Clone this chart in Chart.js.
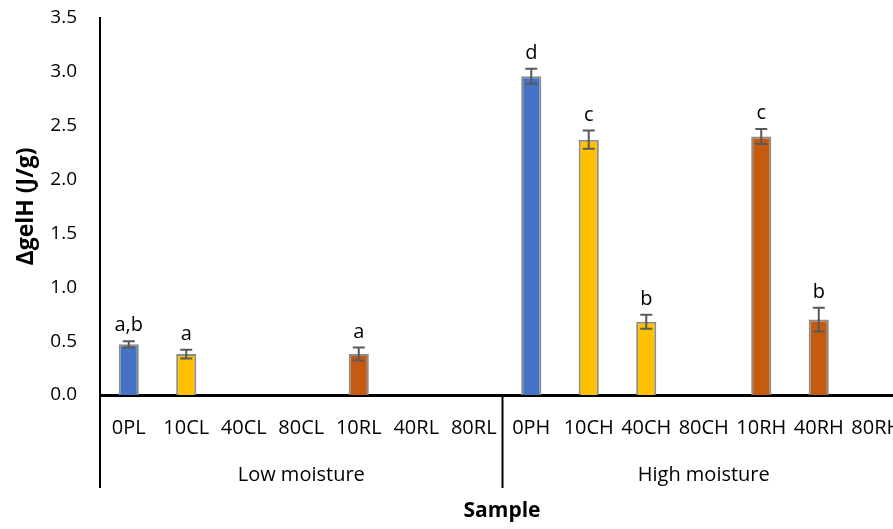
<!DOCTYPE html>
<html>
<head>
<meta charset="utf-8">
<script src="https://cdn.jsdelivr.net/npm/chart.js@4"></script>
<style>
  html, body { margin: 0; padding: 0; background: #fff; overflow: hidden; }
  #wrap { width: 905px; height: 529px; }
</style>
</head>
<body>
<div id="wrap"><canvas id="myChart" width="905" height="529"></canvas></div>
<script>
const categories = ['0PL', '10CL', '40CL', '80CL', '10RL', '40RL', '80RL',
                    '0PH', '10CH', '40CH', '80CH', '10RH', '40RH', '80RH'];
const groups = ['Low moisture', 'High moisture'];
const groupSize = 7;
const values = [0.47, 0.38, null, null, 0.38, null, null, 2.96, 2.37, 0.68, null, 2.40, 0.70, null];
const errors = [0.03, 0.04, null, null, 0.06, null, null, 0.07, 0.085, 0.065, null, 0.07, 0.11, null];
const letters = ['a,b', 'a', '', '', 'a', '', '', 'd', 'c', 'b', '', 'c', 'b', ''];
const yTicks = [0, 0.5, 1.0, 1.5, 2.0, 2.5, 3.0, 3.5];

const BLUE = '#4472C4', YELLOW = '#FFC000', ORANGE = '#C55A11';
const barColors = categories.map(c => c.startsWith('0P') ? BLUE : (c.includes('C') ? YELLOW : ORANGE));
const FONT = '"Open Sans", sans-serif';

const extras = {
  id: 'extras',
  afterDatasetsDraw(chart) {
    const ctx = chart.ctx;
    const x = chart.scales.x, y = chart.scales.y;
    const area = chart.chartArea;
    ctx.save();
    // error bars + significance letters
    values.forEach((v, i) => {
      if (v == null) return;
      const px = x.getPixelForValue(i);
      const top = y.getPixelForValue(v + errors[i]);
      const bot = y.getPixelForValue(v - errors[i]);
      ctx.strokeStyle = '#595959';
      ctx.lineWidth = 2;
      ctx.beginPath();
      ctx.moveTo(px, top); ctx.lineTo(px, bot);
      ctx.moveTo(px - 6, top); ctx.lineTo(px + 6, top);
      ctx.moveTo(px - 6, bot); ctx.lineTo(px + 6, bot);
      ctx.stroke();
      ctx.fillStyle = '#000';
      ctx.font = '20px ' + FONT;
      ctx.textAlign = 'center';
      ctx.textBaseline = 'alphabetic';
      ctx.fillText(letters[i], px, top - 10);
    });
    // category labels
    ctx.fillStyle = '#000';
    ctx.font = '20px ' + FONT;
    ctx.textAlign = 'center';
    ctx.textBaseline = 'alphabetic';
    categories.forEach((c, i) => ctx.fillText(c, x.getPixelForValue(i), 434));
    // group separators and labels
    ctx.strokeStyle = '#000';
    ctx.lineWidth = 2;
    const half = (x.getPixelForValue(1) - x.getPixelForValue(0)) / 2;
    ctx.beginPath();
    ctx.moveTo(area.left, area.bottom); ctx.lineTo(area.left, 488);
    for (let g = 1; g < groups.length; g++) {
      const sx = x.getPixelForValue(g * groupSize) - half;
      ctx.moveTo(sx, area.bottom); ctx.lineTo(sx, 488);
    }
    ctx.stroke();
    groups.forEach((g, gi) => {
      const a = x.getPixelForValue(gi * groupSize) - half;
      const b = x.getPixelForValue(gi * groupSize + groupSize - 1) + half;
      ctx.fillText(g, (a + b) / 2, 481);
    });
    // axis titles
    ctx.font = 'bold 21px ' + FONT;
    ctx.fillText('Sample', 502, 517);
    ctx.translate(26, (area.top + area.bottom) / 2);
    ctx.rotate(-Math.PI / 2);
    ctx.font = 'bold 23px ' + FONT;
    ctx.textBaseline = 'middle';
    ctx.fillText('ΔgelH (J/g)', 0, 0);
    ctx.restore();
  }
};

new Chart(document.getElementById('myChart').getContext('2d'), {
  type: 'bar',
  data: {
    labels: categories,
    datasets: [{
      data: values,
      backgroundColor: barColors,
      borderColor: '#8C8C8C',
      borderWidth: 2,
      borderSkipped: 'bottom',
      barPercentage: 0.35,
      categoryPercentage: 1.0
    }]
  },
  options: {
    responsive: false,
    animation: false,
    layout: { padding: { top: 18, left: 0, right: 0, bottom: 0 } },
    plugins: { legend: { display: false }, tooltip: { enabled: false } },
    scales: {
      y: {
        min: 0,
        max: 3.5,
        afterBuildTicks: s => { s.ticks = yTicks.map(v => ({ value: v })); },
        afterFit: s => { s.width = 100; s.paddingTop = 0; s.paddingBottom = 0; },
        grid: { display: false, drawTicks: false },
        border: { display: true, color: '#000', width: 2 },
        ticks: {
          padding: 23,
          color: '#000',
          font: { size: 19, family: FONT },
          callback: v => Number(v).toFixed(1)
        }
      },
      x: {
        afterFit: s => { s.height = 134; },
        grid: { display: false, drawTicks: false },
        border: { display: true, color: '#000', width: 3 },
        ticks: { display: false }
      }
    }
  },
  plugins: [extras]
});
</script>
</body>
</html>
